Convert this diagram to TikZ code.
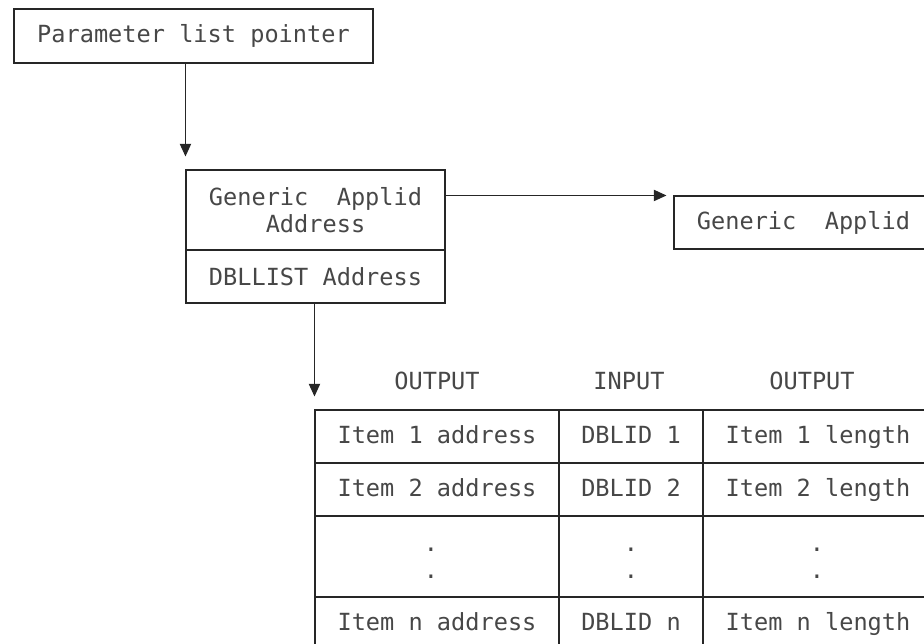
\documentclass[tikz,border=0pt]{standalone}
\usepackage{fontspec}
\newfontfamily\listfont[WordSpace={1,0,0}]{DejaVu Sans Mono}
\usepackage{tikz}
\usetikzlibrary{arrows.meta}

\begin{document}
\begin{tikzpicture}[x=0.75pt,y=-0.75pt,
	>={Triangle[length=9.5pt,width=8.5pt]},
	every node/.style={font=\listfont\fontsize{17.7}{20.25}\selectfont,text=black!72},
	box/.style={draw=black!85,line width=0.8pt,inner sep=0pt,align=center},
	cell/.style={box,text height=14pt,text depth=2.8pt},
	conn/.style={draw=black!85,line width=0.8pt,->}]
\useasboundingbox (0,0) rectangle (924,643);
\clip (0,0) rectangle (924,643);
%
\node[box,minimum width=269.25pt,minimum height=40.5pt] (plp) at (193.5,36) {Parameter list pointer};
\node[box,minimum width=194.25pt,minimum height=60pt] (gaa) at (315.5,210) {Generic\ \ Applid\\Address};
\node[box,minimum width=194.25pt,minimum height=39.75pt] (dbl) at (315.5,276.5) {DBLLIST Address};
\node[box,minimum width=194.25pt,minimum height=39.75pt] (ga) at (803.5,222.5) {Generic\ \ Applid};
%
\node (hd1) at (437,381) {OUTPUT};
\node (hd2) at (629,381) {INPUT};
\node (hd3) at (812,381) {OUTPUT};
%
\node[cell,minimum width=183pt,minimum height=39.75pt] (c11) at (437,436.5) {Item 1 address};
\node[cell,minimum width=108pt,minimum height=39.75pt] (c12) at (631,436.5) {DBLID 1};
\node[cell,minimum width=172.5pt,minimum height=39.75pt] (c13) at (818,436.5) {Item 1 length};
\node[cell,minimum width=183pt,minimum height=39.75pt] (c21) at (437,489.5) {Item 2 address};
\node[cell,minimum width=108pt,minimum height=39.75pt] (c22) at (631,489.5) {DBLID 2};
\node[cell,minimum width=172.5pt,minimum height=39.75pt] (c23) at (818,489.5) {Item 2 length};
\node[box,minimum width=183pt,minimum height=60.75pt] (c31) at (437,556.5) {};
\node[box,minimum width=108pt,minimum height=60.75pt] (c32) at (631,556.5) {};
\node[box,minimum width=172.5pt,minimum height=60.75pt] (c33) at (818,556.5) {};
\node[cell,minimum width=183pt,minimum height=39.75pt] (c41) at (437,623.5) {Item n address};
\node[cell,minimum width=108pt,minimum height=39.75pt] (c42) at (631,623.5) {DBLID n};
\node[cell,minimum width=172.5pt,minimum height=39.75pt] (c43) at (818,623.5) {Item n length};
%
\node[align=center,inner sep=0pt] (dt1) at (431,563) {.\\.};
\node[align=center,inner sep=0pt] (dt2) at (631,563) {.\\.};
\node[align=center,inner sep=0pt] (dt3) at (817,563) {.\\.};
%
\draw[conn,shorten >=9.75pt] (plp.south -| gaa.west) -- (gaa.north west);
\draw[conn,shorten >=5.25pt] (gaa.east |- ga.north) -- (ga.north west);
\draw[conn,shorten >=9.75pt] (dbl.south -| c11.west) -- (c11.north west);
\end{tikzpicture}
\end{document}
